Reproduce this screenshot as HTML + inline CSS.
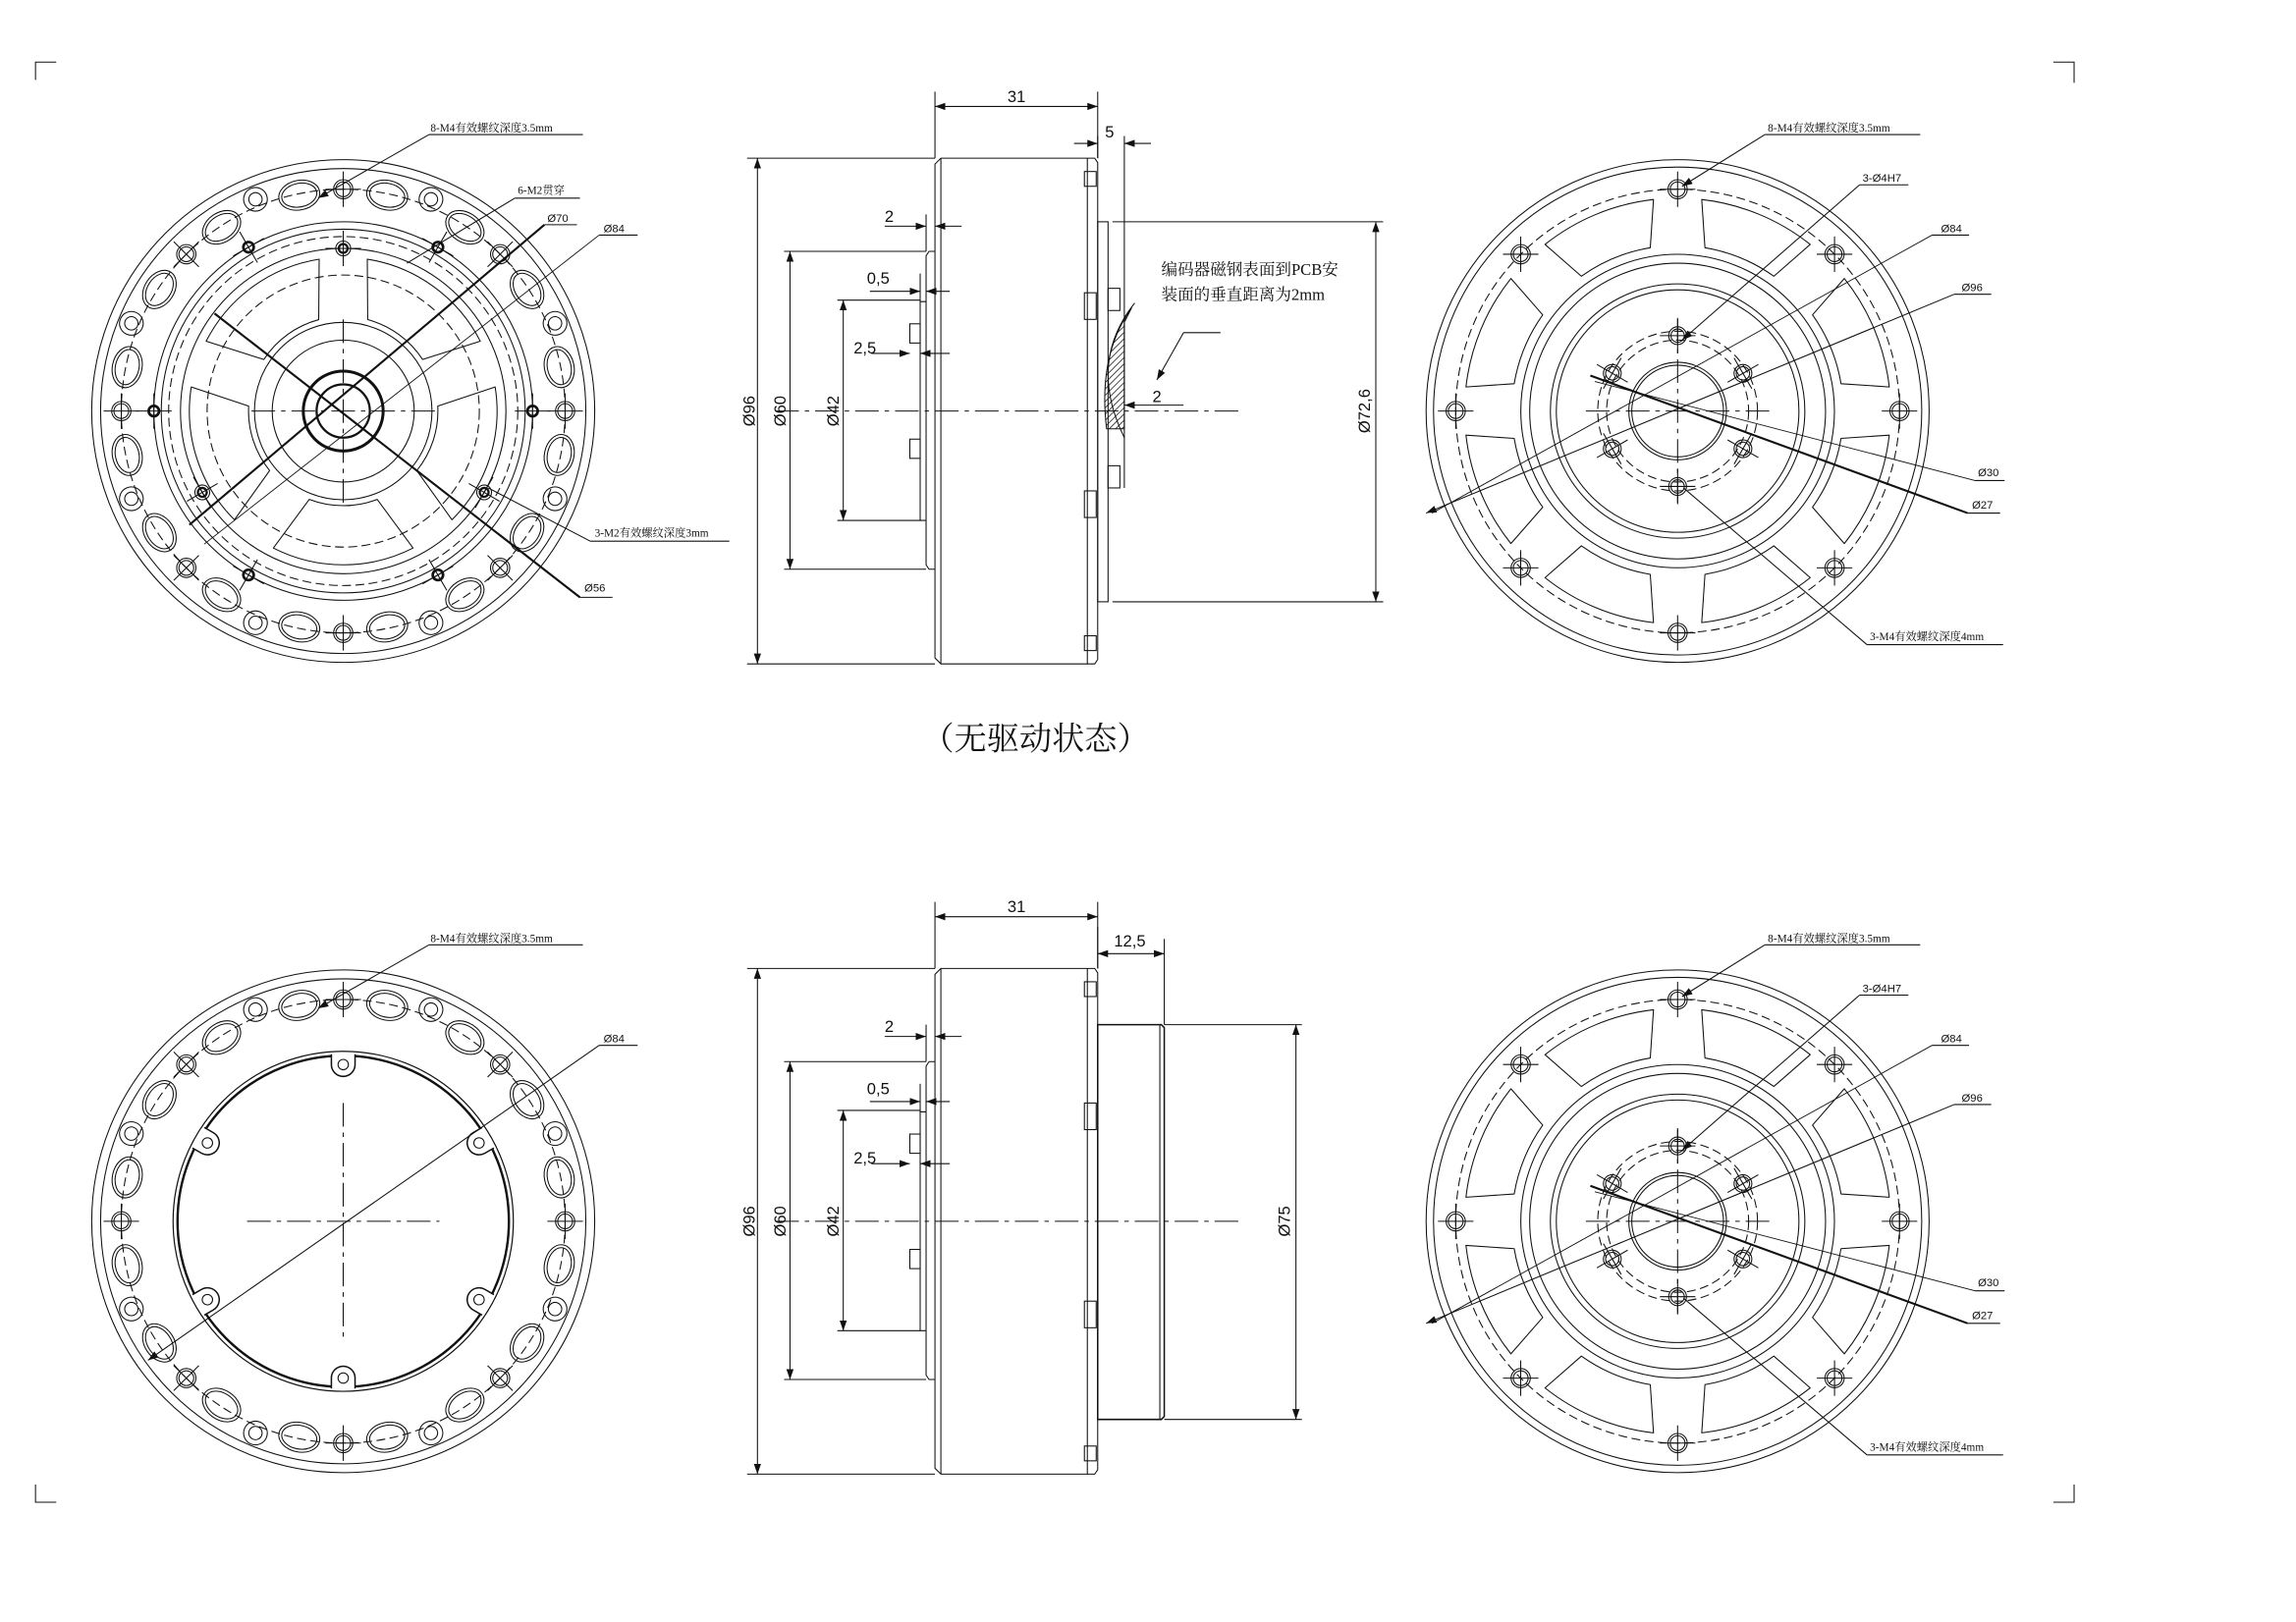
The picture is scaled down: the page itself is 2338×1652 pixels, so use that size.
<!DOCTYPE html>
<html><head><meta charset="utf-8"><style>
html,body{margin:0;padding:0;background:#fff;}
svg{display:block;}
text{font-family:"Liberation Sans","Noto Sans CJK SC",sans-serif;fill:#111;stroke:none;}
.cn{font-family:"Liberation Serif","Noto Serif CJK SC","Noto Sans CJK SC",serif;}
</style></head><body>
<svg width="2338" height="1652" viewBox="0 0 1552 1097" preserveAspectRatio="none" xmlns="http://www.w3.org/2000/svg" xmlns:xlink="http://www.w3.org/1999/xlink">
<defs>
<marker id="a" viewBox="0 0 10 10" refX="10" refY="5" markerWidth="7" markerHeight="7" markerUnits="userSpaceOnUse" orient="auto-start-reverse"><path d="M0,1.5 L10,5 L0,8.5 Z" fill="#111"/></marker>
<pattern id="h" width="3" height="3" patternUnits="userSpaceOnUse" patternTransform="rotate(45)"><line x1="0" y1="0" x2="0" y2="3" stroke="#111" stroke-width="1"/></pattern>
<g id="x"><line x1="-12" y1="0" x2="12" y2="0"/><line x1="0" y1="-12" x2="0" y2="12"/></g>
<g id="m4"><circle r="6.5"/><circle r="5"/><use xlink:href="#x"/></g>
<g id="ov"><ellipse rx="10" ry="14"/><ellipse rx="8" ry="12"/></g>
<g id="sec">
 <use xlink:href="#m4" x="150" y="0"/>
 <g transform="rotate(11.5)"><use xlink:href="#ov" x="149" y="0"/></g>
 <g transform="rotate(33.5)"><use xlink:href="#ov" x="149" y="0"/></g>
 <g transform="rotate(22.5)"><circle cx="155" cy="0" r="4.5"/><circle cx="155" cy="0" r="8"/></g>
</g>
<g id="ring">
 <circle r="170"/><circle r="164"/><circle r="150" stroke-dasharray="6 3"/>
 <use xlink:href="#sec"/>
 <use xlink:href="#sec" transform="rotate(45)"/>
 <use xlink:href="#sec" transform="rotate(90)"/>
 <use xlink:href="#sec" transform="rotate(135)"/>
 <use xlink:href="#sec" transform="rotate(180)"/>
 <use xlink:href="#sec" transform="rotate(225)"/>
 <use xlink:href="#sec" transform="rotate(270)"/>
 <use xlink:href="#sec" transform="rotate(315)"/>
</g>
<path id="win" d="M16.27,-102.72 A104,104 0 0 1 92.66,-47.21 L53.67,-34.86 A64,64 0 0 0 16.56,-61.82 Z" stroke-linejoin="round"/>
<path id="rwin" d="M143.07,16.30 A144,144 0 0 1 112.70,89.64 L91.18,65.04 A112,112 0 0 0 110.46,18.48 Z" stroke-linejoin="round"/>
<g id="m2"><circle cx="128" cy="0" r="3.5" stroke-width="1.8"/><use xlink:href="#x" x="128" y="0"/></g>
<g id="m2t"><circle cx="110" cy="0" r="5"/><circle cx="110" cy="0" r="3" stroke-width="1.5"/><use xlink:href="#x" x="110" y="0"/></g>
<g id="lug"><path d="M113,-8 L106,-8 A7,7 0 0 0 106,8 L113,8" fill="#fff" stroke-width="1"/><circle cx="106" cy="0" r="3.5"/></g>
<g id="sh"><circle cx="51" cy="0" r="6"/><circle cx="51" cy="0" r="4.5"/><use xlink:href="#x" x="51" y="0"/></g>
<g id="rf">
 <circle r="170"/><circle r="165"/><circle r="150" stroke-dasharray="6 3"/>
 <use xlink:href="#rwin"/><use xlink:href="#rwin" transform="rotate(45)"/><use xlink:href="#rwin" transform="rotate(90)"/><use xlink:href="#rwin" transform="rotate(135)"/>
 <use xlink:href="#rwin" transform="rotate(180)"/><use xlink:href="#rwin" transform="rotate(225)"/><use xlink:href="#rwin" transform="rotate(270)"/><use xlink:href="#rwin" transform="rotate(315)"/>
 <use xlink:href="#m4" x="150" y="0"/><use xlink:href="#m4" x="-150" y="0"/><use xlink:href="#m4" x="0" y="150"/><use xlink:href="#m4" x="0" y="-150"/>
 <use xlink:href="#m4" x="106.07" y="106.07"/><use xlink:href="#m4" x="-106.07" y="106.07"/><use xlink:href="#m4" x="106.07" y="-106.07"/><use xlink:href="#m4" x="-106.07" y="-106.07"/>
 <circle r="106"/><circle r="100"/><circle r="86"/><circle r="82"/>
 <circle r="54" stroke-dasharray="6 3"/><circle r="48" stroke-dasharray="6 3"/><circle r="33"/><circle r="31"/>
 <line x1="-62" y1="0" x2="62" y2="0" stroke-dasharray="16 4 3 4"/><line x1="0" y1="-62" x2="0" y2="62" stroke-dasharray="16 4 3 4"/>
 <use xlink:href="#sh" transform="rotate(-90)"/><use xlink:href="#sh" transform="rotate(-30)"/><use xlink:href="#sh" transform="rotate(30)"/>
 <use xlink:href="#sh" transform="rotate(90)"/><use xlink:href="#sh" transform="rotate(150)"/><use xlink:href="#sh" transform="rotate(210)"/>
</g>
<g id="sc">
 <path d="M636,107 L740,107 L742,110 L742,446 L740,449 L636,449 L632,445 L632,111 Z"/>
 <line x1="636" y1="107" x2="636" y2="449"/><line x1="735" y1="107" x2="735" y2="449"/>
 <rect x="733" y="116" width="8" height="10"/><rect x="733" y="198" width="8" height="18"/><rect x="733" y="332" width="8" height="18"/><rect x="733" y="430" width="8" height="10"/>
 <path d="M632,170 L628,170 L626,173 L626,382 L628,385 L632,385"/>
 <path d="M626,204 L622,204 L622,352 L626,352"/>
 <rect x="615" y="219" width="7" height="13"/><rect x="615" y="297" width="7" height="13"/>
 <line x1="524" y1="278" x2="840" y2="278" stroke-dasharray="16 4 3 4"/>
 <line x1="632" y1="62" x2="632" y2="107"/><line x1="742" y1="62" x2="742" y2="107"/>
 <line x1="632" y1="72" x2="742" y2="72" marker-start="url(#a)" marker-end="url(#a)"/>
 <line x1="505" y1="107" x2="632" y2="107"/><line x1="505" y1="449" x2="632" y2="449"/>
 <line x1="512" y1="107" x2="512" y2="449" marker-start="url(#a)" marker-end="url(#a)"/>
 <line x1="530" y1="170" x2="626" y2="170"/><line x1="530" y1="385" x2="626" y2="385"/>
 <line x1="534" y1="170" x2="534" y2="385" marker-start="url(#a)" marker-end="url(#a)"/>
 <line x1="566" y1="203" x2="622" y2="203"/><line x1="566" y1="352" x2="622" y2="352"/>
 <line x1="570" y1="203" x2="570" y2="352" marker-start="url(#a)" marker-end="url(#a)"/>
 <line x1="626" y1="145" x2="626" y2="170"/>
 <line x1="598" y1="153" x2="626" y2="153" marker-end="url(#a)"/><line x1="650" y1="153" x2="632" y2="153" marker-end="url(#a)"/>
 <line x1="622" y1="185" x2="622" y2="204"/>
 <line x1="588" y1="197" x2="622" y2="197" marker-end="url(#a)"/><line x1="642" y1="197" x2="626" y2="197" marker-end="url(#a)"/>
 <line x1="589" y1="239" x2="615" y2="239" marker-end="url(#a)"/><line x1="642" y1="239" x2="622" y2="239" marker-end="url(#a)"/>
</g>
</defs>

<g fill="none" stroke="#111" stroke-width="0.7">
<path d="M24,54 L24,42 L38,42"/><path d="M1388,42 L1402,42 L1402,56"/><path d="M24,1004 L24,1016 L38,1016"/><path d="M1388,1016 L1402,1016 L1402,1004"/>

<g transform="translate(232,278)">
 <use xlink:href="#ring"/>
 <circle r="128"/><circle r="123"/><circle r="118" stroke-dasharray="6 3"/><circle r="110"/>
 <circle r="92" stroke-dasharray="6 3"/>
 <use xlink:href="#win"/><use xlink:href="#win" transform="rotate(72)"/><use xlink:href="#win" transform="rotate(144)"/><use xlink:href="#win" transform="rotate(216)"/><use xlink:href="#win" transform="rotate(288)"/>
 <circle r="60"/><circle r="48"/><circle r="27" stroke-width="2"/><circle r="18" stroke-width="1.5"/>
 <line x1="-62" y1="0" x2="62" y2="0" stroke-dasharray="16 4 3 4"/><line x1="0" y1="-62" x2="0" y2="62" stroke-dasharray="16 4 3 4"/>
 <use xlink:href="#m2"/><use xlink:href="#m2" transform="rotate(60)"/><use xlink:href="#m2" transform="rotate(120)"/><use xlink:href="#m2" transform="rotate(180)"/><use xlink:href="#m2" transform="rotate(240)"/><use xlink:href="#m2" transform="rotate(300)"/>
 <use xlink:href="#m2t" transform="rotate(-90)"/><use xlink:href="#m2t" transform="rotate(30)"/><use xlink:href="#m2t" transform="rotate(150)"/>
</g>
<line x1="290" y1="91" x2="394" y2="91"/><line x1="290" y1="91" x2="215" y2="134" marker-end="url(#a)"/>
<line x1="348" y1="134" x2="392" y2="134"/><line x1="348" y1="134" x2="275" y2="178"/>
<line x1="368" y1="152" x2="390" y2="152"/><line x1="368" y1="152" x2="128" y2="355" stroke-width="1.4"/>
<line x1="405" y1="159" x2="431" y2="159"/><line x1="405" y1="159" x2="138" y2="368" stroke-width="0.6"/>
<line x1="392" y1="404" x2="414" y2="404"/><line x1="392" y1="404" x2="145" y2="212" stroke-width="1.4"/>
<line x1="399" y1="366" x2="493" y2="366"/><line x1="399" y1="366" x2="330" y2="330"/>

<g transform="translate(232,826)">
 <use xlink:href="#ring"/>
 <circle r="115" stroke-width="0.8"/><circle r="112" stroke-width="1.6"/>
 <use xlink:href="#lug" transform="rotate(-90)"/><use xlink:href="#lug" transform="rotate(-30)"/><use xlink:href="#lug" transform="rotate(30)"/>
 <use xlink:href="#lug" transform="rotate(90)"/><use xlink:href="#lug" transform="rotate(150)"/><use xlink:href="#lug" transform="rotate(210)"/>
 <line x1="-65" y1="0" x2="65" y2="0" stroke-dasharray="16 4 3 4"/><line x1="0" y1="-80" x2="0" y2="80" stroke-dasharray="16 4 3 4"/>
</g>
<line x1="290" y1="639" x2="394" y2="639"/><line x1="290" y1="639" x2="215" y2="682" marker-end="url(#a)"/>
<line x1="405" y1="707" x2="431" y2="707"/><line x1="405" y1="707" x2="100" y2="920" marker-end="url(#a)"/>

<use xlink:href="#rf" transform="translate(1134,278)"/>
<use xlink:href="#rf" transform="translate(1134,826)"/>
<g id="rl">
<line x1="1193" y1="91" x2="1298" y2="91"/><line x1="1193" y1="91" x2="1137" y2="126" marker-end="url(#a)"/>
<line x1="1257" y1="125" x2="1290" y2="125"/><line x1="1257" y1="125" x2="1137" y2="230" marker-end="url(#a)"/>
<line x1="1306" y1="159" x2="1331" y2="159"/><line x1="1306" y1="159" x2="968" y2="347" stroke-width="0.6"/>
<line x1="1321" y1="199" x2="1346" y2="199"/><line x1="1321" y1="199" x2="964" y2="347" marker-end="url(#a)"/>
<line x1="1335" y1="325" x2="1355" y2="325"/><line x1="1335" y1="325" x2="1078" y2="258" stroke-width="0.6"/>
<line x1="1330" y1="347" x2="1352" y2="347"/><line x1="1330" y1="347" x2="1075" y2="254" stroke-width="1.4"/>
<line x1="1262" y1="436" x2="1354" y2="436"/><line x1="1262" y1="436" x2="1138" y2="330"/>
</g>
<use xlink:href="#rl" y="548"/>

<use xlink:href="#sc"/>
<use xlink:href="#sc" y="548"/>
<rect x="742" y="150" width="7" height="257"/>
<line x1="760" y1="92" x2="760" y2="330"/>
<rect x="749" y="195" width="8" height="15"/><rect x="749" y="315" width="8" height="15"/>
<line x1="742" y1="92" x2="742" y2="107"/>
<line x1="726" y1="97" x2="742" y2="97" marker-end="url(#a)"/><line x1="778" y1="97" x2="760" y2="97" marker-end="url(#a)"/>
<path d="M765,208 Q742,240 748,290 L760,290 L760,218 Z" fill="url(#h)"/>
<path d="M767,205 Q735,245 760,296"/>
<line x1="752" y1="150" x2="935" y2="150"/><line x1="752" y1="407" x2="935" y2="407"/>
<line x1="930" y1="150" x2="930" y2="407" marker-start="url(#a)" marker-end="url(#a)"/>
<line x1="825" y1="225" x2="800" y2="225"/><line x1="800" y1="225" x2="782" y2="257" marker-end="url(#a)"/>
<line x1="800" y1="274" x2="760" y2="274" marker-end="url(#a)"/>

<path d="M742,693 L785,693 L787,695 L787,958 L785,960 L742,960 Z" stroke-width="1"/>
<line x1="784" y1="693" x2="784" y2="960"/>
<line x1="742" y1="627" x2="742" y2="655"/><line x1="787" y1="635" x2="787" y2="693"/>
<line x1="742" y1="645" x2="787" y2="645" marker-start="url(#a)" marker-end="url(#a)"/>
<line x1="787" y1="693" x2="880" y2="693"/><line x1="787" y1="960" x2="880" y2="960"/>
<line x1="876" y1="693" x2="876" y2="960" marker-start="url(#a)" marker-end="url(#a)"/>
</g>

<g>
<text x="291" y="89" font-size="7.5" class="cn">8-M4有效螺纹深度3.5mm</text>
<text x="350" y="131" font-size="7.5" class="cn">6-M2贯穿</text>
<text x="370" y="150" font-size="7.5">Ø70</text>
<text x="408" y="157" font-size="7.5">Ø84</text>
<text x="402" y="363" font-size="7.5" class="cn">3-M2有效螺纹深度3mm</text>
<text x="395" y="400" font-size="7.5">Ø56</text>
<text x="681" y="69" font-size="11">31</text>
<text x="747" y="93" font-size="11">5</text>
<text x="598" y="150" font-size="11">2</text>
<text x="586" y="192" font-size="11">0,5</text>
<text x="577" y="239" font-size="11">2,5</text>
<text x="779" y="272" font-size="11">2</text>
<text x="785" y="186" font-size="11" class="cn">编码器磁钢表面到PCB安</text>
<text x="785" y="203" font-size="11" class="cn">装面的垂直距离为2mm</text>
<text transform="translate(510,278) rotate(-90)" font-size="11" text-anchor="middle">Ø96</text>
<text transform="translate(531,278) rotate(-90)" font-size="11" text-anchor="middle">Ø60</text>
<text transform="translate(567,278) rotate(-90)" font-size="11" text-anchor="middle">Ø42</text>
<text transform="translate(926,278) rotate(-90)" font-size="11" text-anchor="middle">Ø72,6</text>
<text x="700" y="507" font-size="22" text-anchor="middle" class="cn">（无驱动状态）</text>
<text x="1195" y="89" font-size="7.5" class="cn">8-M4有效螺纹深度3.5mm</text>
<text x="1259" y="123" font-size="7.5">3-Ø4H7</text>
<text x="1312" y="157" font-size="7.5">Ø84</text>
<text x="1326" y="197" font-size="7.5">Ø96</text>
<text x="1337" y="322" font-size="7.5">Ø30</text>
<text x="1333" y="344" font-size="7.5">Ø27</text>
<text x="1264" y="433" font-size="7.5" class="cn">3-M4有效螺纹深度4mm</text>
<text x="291" y="637" font-size="7.5" class="cn">8-M4有效螺纹深度3.5mm</text>
<text x="408" y="705" font-size="7.5">Ø84</text>
<text x="681" y="617" font-size="11">31</text>
<text x="753" y="640" font-size="11">12,5</text>
<text x="598" y="698" font-size="11">2</text>
<text x="586" y="740" font-size="11">0,5</text>
<text x="577" y="787" font-size="11">2,5</text>
<text transform="translate(510,826) rotate(-90)" font-size="11" text-anchor="middle">Ø96</text>
<text transform="translate(531,826) rotate(-90)" font-size="11" text-anchor="middle">Ø60</text>
<text transform="translate(567,826) rotate(-90)" font-size="11" text-anchor="middle">Ø42</text>
<text transform="translate(872,826) rotate(-90)" font-size="11" text-anchor="middle">Ø75</text>
<text x="1195" y="637" font-size="7.5" class="cn">8-M4有效螺纹深度3.5mm</text>
<text x="1259" y="671" font-size="7.5">3-Ø4H7</text>
<text x="1312" y="705" font-size="7.5">Ø84</text>
<text x="1326" y="745" font-size="7.5">Ø96</text>
<text x="1337" y="870" font-size="7.5">Ø30</text>
<text x="1333" y="892" font-size="7.5">Ø27</text>
<text x="1264" y="981" font-size="7.5" class="cn">3-M4有效螺纹深度4mm</text>
</g>
</svg>
</body></html>
